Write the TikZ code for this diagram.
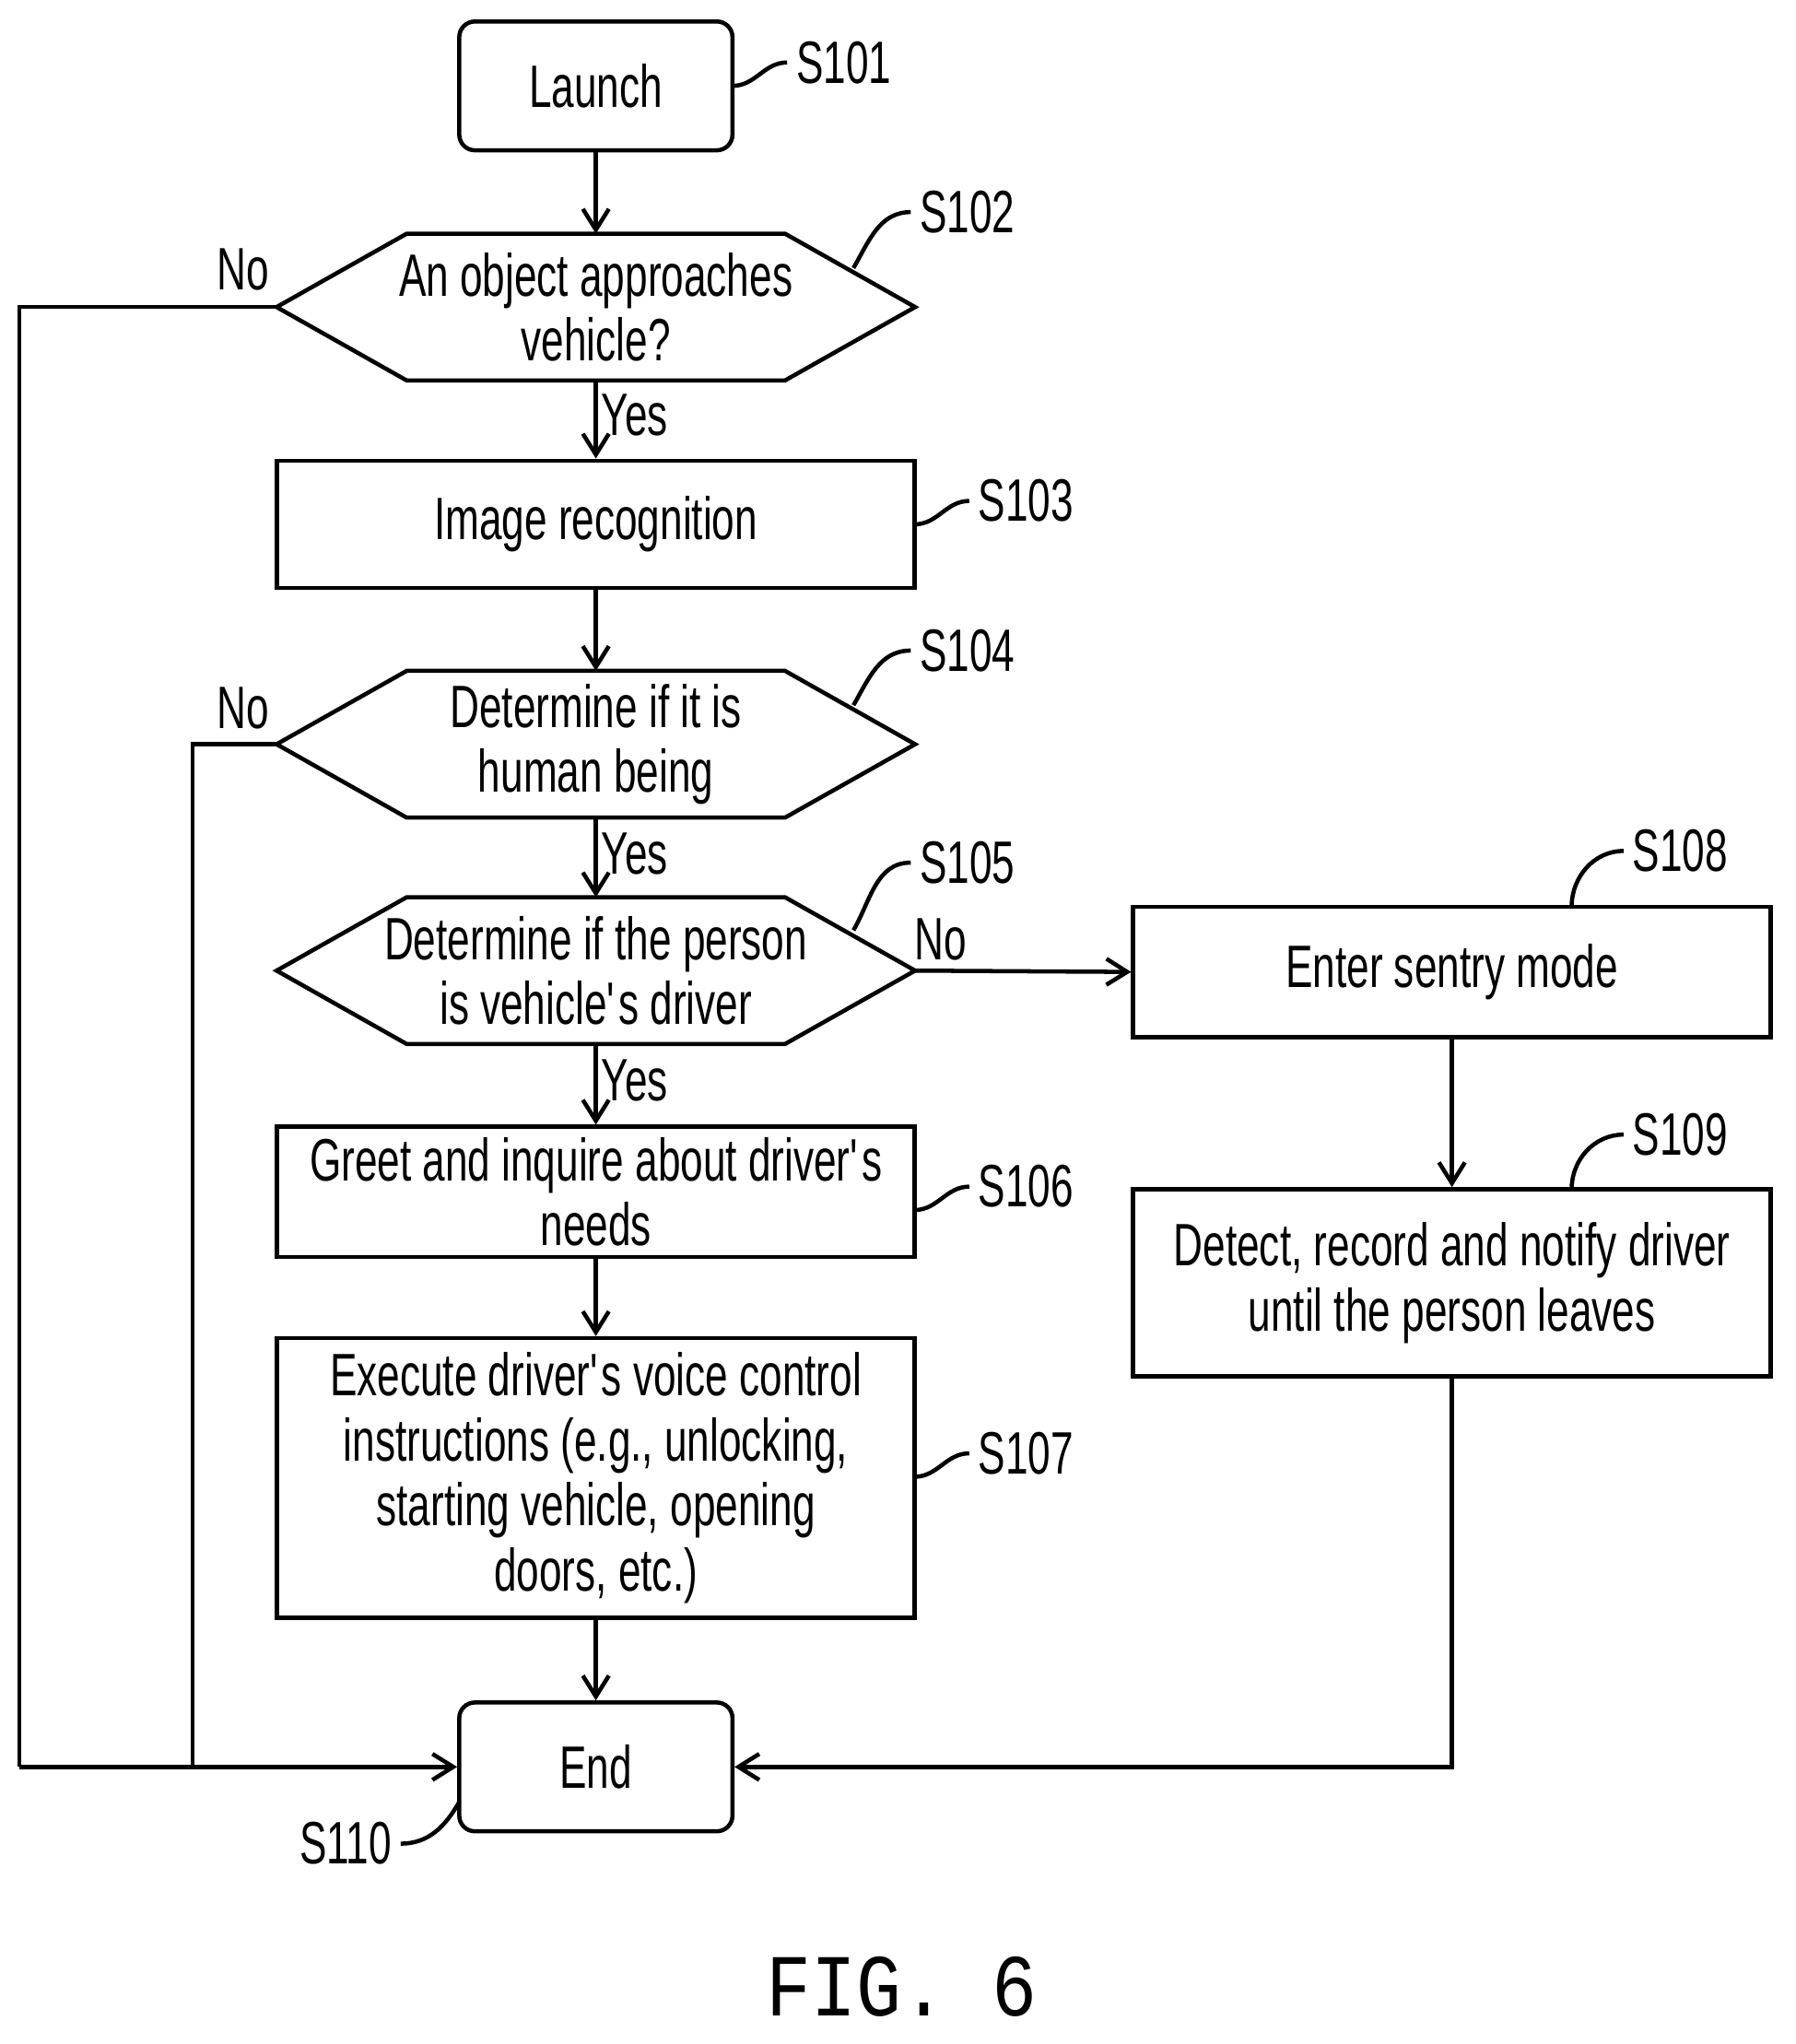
\documentclass[tikz,border=0pt]{standalone}
\usepackage{fontspec}
\setmainfont{Liberation Sans}[FakeStretch=0.68]
\setmonofont{Liberation Mono}[FakeStretch=0.85]
\usetikzlibrary{calc,arrows.meta}
\newcommand{\hexd}[1]{\draw[ln] (#1.west) -- ($(#1.north west)+(100,0)$) -- ($(#1.north east)+(-100,0)$) -- (#1.east) -- ($(#1.south east)+(-100,0)$) -- ($(#1.south west)+(100,0)$) -- cycle;}
\begin{document}
\begin{tikzpicture}[x=0.5pt,y=-0.5pt,
 every node/.style={font=\fontsize{23}{25}\selectfont},
 box/.style={draw,line width=1.6pt,minimum width=245pt,align=center,inner sep=0pt},
 term/.style={draw,line width=1.6pt,rounded corners=6pt,minimum width=105pt,minimum height=49.5pt},
 hex/.style={minimum width=245pt,minimum height=56pt,align=center,inner sep=0pt},
 ln/.style={line width=1.6pt},
 arr/.style={ln,-{Straight Barb[length=8pt,width=10pt]}},
 lab/.style={font=\fontsize{23}{25}\selectfont}]
\useasboundingbox (0,0) rectangle (1380,1571);
\node[term] (s101) at (458,66) {Launch};
\node[hex] (s102) at (458,236) {An object approaches\\vehicle?};
\hexd{s102}
\node[box,minimum height=49pt] (s103) at (458,403) {Image recognition};
\node[hex] (s104) at (458,572) {Determine if it is\\human being};
\hexd{s104}
\node[hex] (s105) at (458,746) {Determine if the person\\is vehicle\textquotesingle s driver};
\hexd{s105}
\node[box,minimum height=50pt] (s106) at (458,916) {Greet and inquire about driver\textquotesingle s\\needs};
\node[box,minimum height=107.5pt] (s107) at (458,1136) {Execute driver\textquotesingle s voice control\\instructions (e.g., unlocking,\\starting vehicle, opening\\doors, etc.)};
\node[term] (s110) at (458,1358) {End};
\node[box,minimum height=50pt] (s108) at (1116,747) {Enter sentry mode};
\node[box,minimum height=72pt] (s109) at (1116,986) {Detect, record and notify driver\\until the person leaves};
\draw[arr] (s101) -- (s102);
\draw[arr] (s102) -- (s103) node[pos=0.45,right=-2pt,lab]{Yes};
\draw[arr] (s103) -- (s104);
\draw[arr] (s104) -- (s105) node[pos=0.45,right=-2pt,lab]{Yes};
\draw[arr] (s105) -- (s106) node[pos=0.45,right=-2pt,lab]{Yes};
\draw[arr] (s106) -- (s107);
\draw[arr] (s107) -- (s110);
\draw[arr] (s105.east) -- (s108.west) node[pos=0.12,above,lab]{No};
\draw[arr] (s108) -- (s109);
\draw[arr] (s109.south) |- (s110.east);
\coordinate (c1) at (15,1358);
\coordinate (c2) at (148,1358);
\draw[ln] (s102.west) -| (c1);
\draw[arr] (c1) -- (s110.west);
\draw[ln] (s104.west) -| (c2);
\node[lab] at (187,207) {No};
\node[lab] at (187,544) {No};
\node[lab,anchor=west] (l101) at (605,48) {S101};
\draw[ln] (563,66) to[out=0,in=180] (l101.west);
\node[lab,anchor=west] (l102) at (700,163) {S102};
\draw[ln] (656,206) to[out=60,in=180] (l102.west);
\node[lab,anchor=west] (l103) at (745,385) {S103};
\draw[ln] (703,403) to[out=0,in=180] (l103.west);
\node[lab,anchor=west] (l104) at (700,500) {S104};
\draw[ln] (656,542) to[out=60,in=180] (l104.west);
\node[lab,anchor=west] (l105) at (700,663) {S105};
\draw[ln] (656,715) to[out=60,in=180] (l105.west);
\node[lab,anchor=west] (l106) at (745,912) {S106};
\draw[ln] (703,930) to[out=0,in=180] (l106.west);
\node[lab,anchor=west] (l107) at (745,1117) {S107};
\draw[ln] (703,1135) to[out=0,in=180] (l107.west);
\node[lab,anchor=west] (l108) at (1248,654) {S108};
\draw[ln] (1208,697) to[out=90,in=180] (l108.west);
\node[lab,anchor=west] (l109) at (1248,872) {S109};
\draw[ln] (1208,914) to[out=90,in=180] (l109.west);
\node[lab,anchor=east] (l110) at (308,1417) {S110};
\draw[ln] (l110.east) to[out=0,in=-120] (353,1385);
\node[font=\ttfamily\fontsize{34}{36}\selectfont] at (693,1527) {FIG. 6};
\end{tikzpicture}
\end{document}
